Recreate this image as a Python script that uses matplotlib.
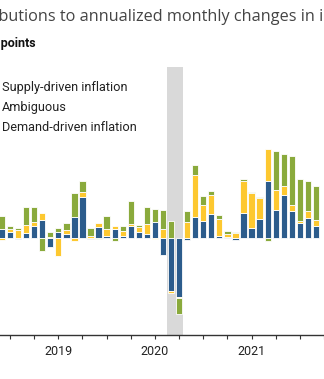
import numpy as np
import pandas as pd
import matplotlib.pyplot as plt
from matplotlib.patches import Patch

plt.rcParams['font.family'] = 'Roboto'

# monthly contributions, percentage points (Jun 2018 - Sep 2021)
months = pd.period_range('2018-06', '2021-09', freq='M')
demand = [0.95, 0.58, -0.10, 0.51, 1.26, 1.88, -0.92, 0.65, 0.41, 2.12,
          4.17, -0.15, 1.10, 0.17, 0.95, 0.24, 1.26, 0.58, 0.41, 1.64,
          -1.71, -5.47, -6.05, -0.17, 2.15, 1.71, 2.49, 0.24, 0.13, -0.17,
          2.57, 1.03, 1.98, 5.81, 2.90, 4.44, 2.73, 1.54, 2.05, 1.26]
ambiguous = [-0.24, 0.34, 0.85, 0.79, 0.38, 0.69, 0.13, -1.82, 0.44, -0.34,
             0.51, 0.21, 0.44, 0.75, 0.31, 0.44, 0.17, 0.54, 1.06, -0.07,
             0.92, -0.24, -0.17, 1.60, 4.28, 1.71, 1.88, 1.74, 0.24, 0.51,
             3.31, 3.59, 2.08, 3.32, 2.05, 0.95, 0.69, 0.24, 0.75, 0.62]
supply = [1.26, 0.34, 0.17, 1.88, 1.54, -1.36, 0.48, 0.41, 0.69, 2.46,
          1.23, 0.82, -0.10, 1.30, -0.28, 0.58, 2.39, 0.24, 1.67, 1.36,
          1.98, 1.71, -1.57, 1.20, 1.06, 0.85, 0.41, 0.41, 0.34, 0.07,
          0.17, 0.13, 0.13, -0.34, 4.00, 3.22, 5.06, 4.28, 3.08, 3.49]

series = [
    ('Demand-driven inflation', demand, '#2c5c8c'),
    ('Ambiguous', ambiguous, '#fdc830'),
    ('Supply-driven inflation', supply, '#8aaa3c'),
]
recession = ('2020-03', '2020-04')

# x position: months since Jan 2019
x = np.array([(p.year - 2019) * 12 + p.month - 1 for p in months])

fig = plt.figure(figsize=(3.24, 3.79), dpi=100)
ax = fig.add_axes([0, 44 / 379, 1, 268 / 379])

r0 = pd.Period(recession[0], freq='M')
r1 = pd.Period(recession[1], freq='M')
rx0 = (r0.year - 2019) * 12 + r0.month - 1
rx1 = (r1.year - 2019) * 12 + r1.month - 1
ax.axvspan(rx0 - 0.5, rx1 + 0.5, color='#d9d9d9', zorder=0, lw=0)

pos_base = np.zeros(len(x))
neg_base = np.zeros(len(x))
for name, vals, color in series:
    v = np.array(vals)
    bottom = np.where(v >= 0, pos_base, neg_base)
    ax.bar(x, v, bottom=bottom, width=0.78, color=color,
           edgecolor='white', linewidth=0.6, zorder=2)
    pos_base += np.clip(v, 0, None)
    neg_base += np.clip(v, None, 0)

ax.set_xlim(-60 / 8.28, (324 - 60) / 8.28)
ax.set_ylim(-10, 17.6)

for s in ['left', 'right', 'top']:
    ax.spines[s].set_visible(False)
ax.spines['bottom'].set_color('#333333')
ax.spines['bottom'].set_linewidth(1)
ax.set_yticks([])

quarters = np.arange(-6, 34, 3)
ax.set_xticks(quarters)
ax.set_xticklabels([str(2019 + q // 12) if q % 12 == 0 else '' for q in quarters])
ax.tick_params(axis='x', length=3, width=0.8, color='#333333',
               labelsize=9, labelcolor='#222222', pad=4)

handles = [Patch(facecolor=c, edgecolor='none') for _, _, c in series[::-1]]
labels = [n for n, _, _ in series[::-1]]
fig.legend(handles, labels, loc='upper left',
           bbox_to_anchor=(-17 / 324, 1 - 81 / 379),
           frameon=False, fontsize=9.2, handlelength=1.0, handleheight=1.0,
           handletextpad=0.5, labelspacing=0.52, borderpad=0,
           borderaxespad=0, labelcolor='#222222')

fig.text(-48 / 324, 1 - 17 / 379,
         'Contributions to annualized monthly changes in inflation',
         fontsize=11.7, family='Open Sans', color='#444444', va='center')
fig.text(36 / 324, 1 - 44 / 379, 'Percentage points', fontsize=9,
         fontweight='bold', color='#111111', ha='right', va='center')

fig.savefig('out.png', dpi=100)
